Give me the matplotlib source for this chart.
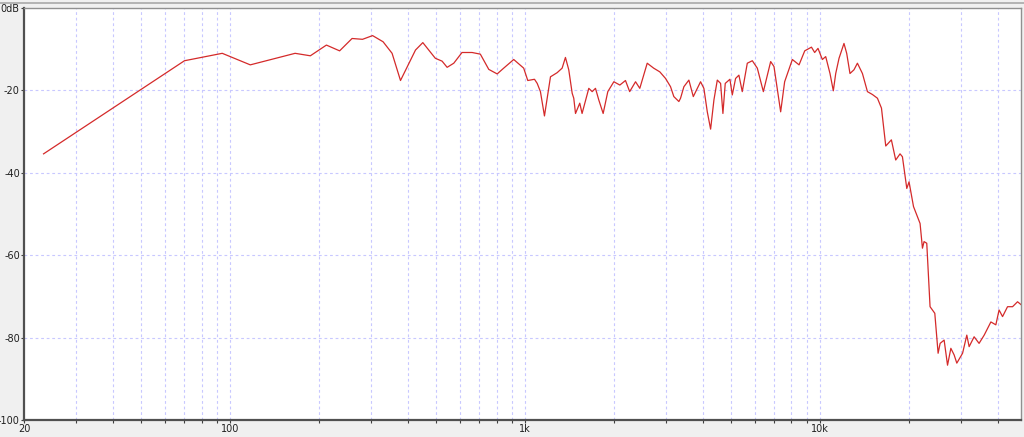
import matplotlib
matplotlib.use('Agg')
import matplotlib.pyplot as plt
from matplotlib.ticker import FixedLocator, NullFormatter
from matplotlib.lines import Line2D

# frequency response (Hz, dB)
freq = [23.3, 70, 94, 117, 166, 187, 212, 235, 259, 281, 304, 330, 354, 378,
        425, 450, 496, 523, 544, 573, 611, 661, 705, 753, 804, 846, 915, 989,
        1021, 1076, 1099, 1127, 1163, 1219, 1284, 1335, 1370, 1406, 1444, 1462,
        1482, 1532, 1560, 1644, 1688, 1732, 1777, 1839, 1907, 1999, 2095, 2189,
        2262, 2368, 2448, 2594, 2728, 2862, 2993, 3112, 3193, 3321, 3365, 3454,
        3591, 3717, 3934, 4037, 4146, 4255, 4367, 4483, 4600, 4684, 4770, 4947,
        5040, 5171, 5307, 5448, 5666, 5893, 6127, 6423, 6800, 6978, 7352, 7584,
        8055, 8487, 8872, 9350, 9587, 9840, 10180, 10450, 10806, 11090, 11300,
        11596, 12052, 12310, 12630, 13030, 13385, 13920, 14474, 15050, 15650,
        16150, 16700, 17450, 18050, 18670, 19020, 19680, 20030, 20740, 21390,
        21830, 22240, 22520, 23000, 23600, 24050, 24490, 25130, 25530, 26340,
        27050, 27760, 28480, 29080, 30420, 31440, 32020, 33290, 34600, 36010,
        37940, 39440, 40450, 41560, 43210, 44940, 46720, 48200]
level = [-35.4, -12.8, -11.0, -13.8, -11.0, -11.6, -9.0, -10.4, -7.4, -7.6, -6.7, -8.2, -11.0, -17.6,
         -10.2, -8.4, -12.2, -12.9, -14.4, -13.4, -10.8, -10.8, -11.2, -14.9, -16.0, -14.6, -12.5, -14.6,
         -17.6, -17.3, -18.3, -20.3, -26.2, -16.7, -15.7, -14.6, -12.0, -15.0, -20.7, -21.9,
         -25.6, -23.1, -25.6, -19.5, -20.3, -19.5, -22.3, -25.6, -20.3, -17.9, -18.7, -17.6,
         -20.3, -17.9, -19.5, -13.4, -14.6, -15.5, -17.1, -19.1, -21.5, -22.7, -21.9, -19.1,
         -17.5, -21.5, -17.9, -19.5, -25.2, -29.4, -22.3, -17.5, -18.3, -25.6, -18.3, -17.3,
         -21.1, -17.1, -16.3, -20.3, -13.4, -12.8, -14.6, -20.3, -13.0, -14.2, -25.2, -17.9,
         -12.5, -13.8, -10.4, -9.5, -10.8, -9.8, -12.5, -11.8, -15.9, -20.1, -15.9,
         -12.2, -8.6, -11.0, -15.9, -15.0, -13.4, -15.9, -20.3, -21.0, -21.9,
         -24.3, -33.5, -32.0, -36.9, -35.4, -36.1, -43.8, -42.2, -48.2, -50.7,
         -52.3, -58.3, -56.7, -57.1, -72.5, -73.3, -74.1, -83.8, -81.4, -80.6,
         -86.7, -82.6, -84.2, -86.2, -83.8, -79.4, -82.2, -79.8, -81.4, -79.4,
         -76.2, -76.9, -73.3, -74.9, -72.5, -72.5, -71.3, -72.1]

x_major = [20, 100, 1000, 10000]
x_major_labels = ['20', '100', '1k', '10k']
y_ticks = [0, -20, -40, -60, -80, -100]
y_labels = ['0dB', '-20', '-40', '-60', '-80', '-100']

x_minor = [m * d for d in (10, 100, 1000, 10000) for m in range(2, 10)]
x_minor = [v for v in x_minor if 20 < v < 48000]

fig = plt.figure(figsize=(10.24, 4.37), dpi=100, facecolor='#f0f0f0')
ax = fig.add_axes([24 / 1024, 17 / 437, 997 / 1024, 412 / 437])
ax.set_facecolor('white')

# thin window border line on top
fig.add_artist(Line2D([0, 1], [1 - 3 / 437, 1 - 3 / 437], color='#a8a8a8', lw=1.2))

ax.semilogx(freq, level, color='#d42a2a', lw=0.9)

ax.set_xlim(20, 48000)
ax.set_ylim(-100, 0)

ax.xaxis.set_major_locator(FixedLocator(x_major))
ax.xaxis.set_minor_locator(FixedLocator(x_minor))
ax.set_xticklabels(x_major_labels)
ax.xaxis.set_minor_formatter(NullFormatter())
ax.set_yticks(y_ticks)
ax.set_yticklabels(y_labels)

grid_kw = dict(color='#c8c8ff', lw=0.8, linestyle=(0, (2.5, 2.5)))
for v in x_minor + x_major[1:]:
    ax.axvline(v, **grid_kw, zorder=0)
for v in y_ticks[1:-1]:
    ax.axhline(v, **grid_kw, zorder=0)

ax.tick_params(axis='both', which='both', direction='out', length=2, width=0.8,
               color='#404040', labelsize=7, labelcolor='#202020', pad=1)
ax.tick_params(axis='x', which='major', pad=1)

for side in ('left', 'bottom'):
    ax.spines[side].set_color('#505050')
    ax.spines[side].set_linewidth(1.6)
for side in ('top', 'right'):
    ax.spines[side].set_color('#909090')
    ax.spines[side].set_linewidth(1.0)

fig.savefig('out.png', dpi=100, facecolor=fig.get_facecolor())
